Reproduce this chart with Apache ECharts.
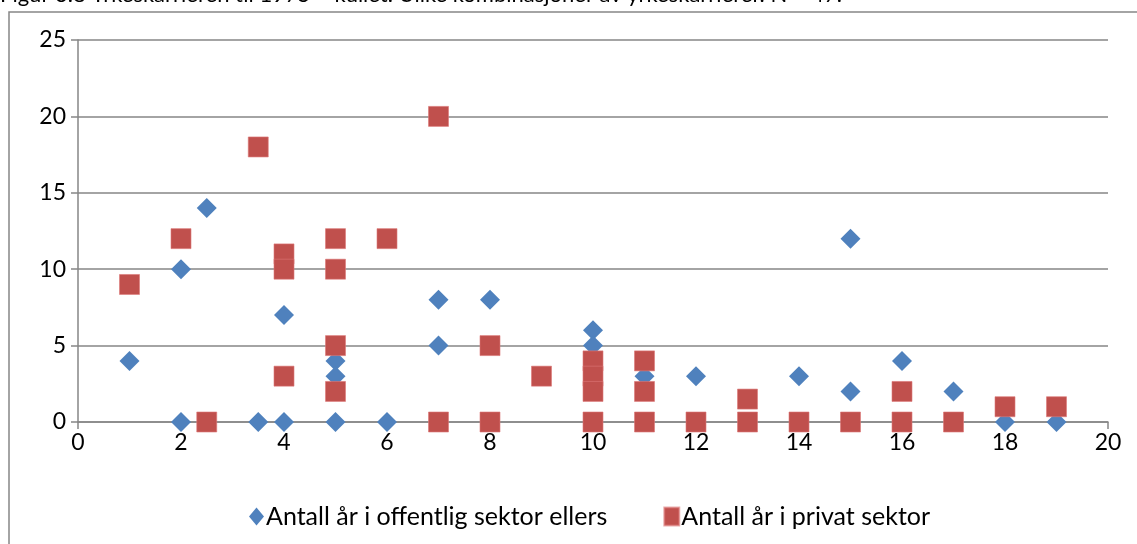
<!DOCTYPE html>
<html>
<head>
<meta charset="utf-8">
<script src="https://cdn.jsdelivr.net/npm/echarts@6/dist/echarts.min.js"></script>
<style>
  html, body { margin: 0; padding: 0; background: #fff; }
  #chart { width: 1137px; height: 544px; }
</style>
</head>
<body>
<div id="chart"></div>
<script>
// Years in occupation (x) against years in the other sector (y)
const titleText = 'Figur 3.8 Yrkeskarrieren til 1975 – kullet. Ulike kombinasjoner av yrkeskarrierer. N = 47.';
const seriesNames = ['Antall år i offentlig sektor ellers', 'Antall år i privat sektor'];

// Antall år i offentlig sektor ellers: [x, y]
const offentlig = [
  [1, 4], [2, 10], [2, 0], [2.5, 14], [3.5, 0], [4, 7], [4, 0],
  [5, 4], [5, 3], [5, 0], [6, 0], [7, 8], [7, 5], [8, 8],
  [10, 6], [10, 5], [11, 3], [12, 3], [14, 3], [15, 12], [15, 2],
  [16, 4], [17, 2], [18, 0], [19, 0]
];

// Antall år i privat sektor: [x, y]
const privat = [
  [1, 9], [2, 12], [2.5, 0], [3.5, 18], [4, 11], [4, 10], [4, 3],
  [5, 12], [5, 10], [5, 5], [5, 2], [6, 12], [7, 20], [7, 0],
  [8, 5], [8, 0], [9, 3], [10, 4], [10, 3], [10, 2], [10, 0],
  [11, 4], [11, 2], [11, 0], [12, 0], [13, 1.5], [13, 0], [14, 0],
  [15, 0], [16, 2], [16, 0], [17, 0], [18, 1], [19, 1]
];

const xTicks = { min: 0, max: 20, interval: 2 };
const yTicks = { min: 0, max: 25, interval: 5 };

const FONT = 'Lato, "Open Sans", sans-serif';
const AXIS_GRAY = '#868686';

const chart = echarts.init(document.getElementById('chart'), null, { renderer: 'canvas' });

chart.setOption({
  animation: false,
  backgroundColor: '#ffffff',
  textStyle: { fontFamily: FONT },
  graphic: [
    {
      type: 'rect',
      shape: { x: 9, y: 12, width: 1200, height: 600 },
      style: { fill: 'none', stroke: AXIS_GRAY, lineWidth: 1.5 },
      silent: true,
      z: -10
    },
    {
      type: 'text',
      left: 0,
      top: -16,
      style: { text: titleText, fontFamily: FONT, fontSize: 22, fill: '#000' },
      silent: true
    }
  ],
  grid: { left: 78, right: 29, top: 40, bottom: 122, containLabel: false },
  legend: {
    top: 499,
    left: 244,
    itemGap: 56,
    itemWidth: 15,
    itemHeight: 18,
    textStyle: { fontFamily: FONT, fontSize: 25, color: '#000', padding: [0, 0, 0, -3] },
    data: [
      { name: seriesNames[0], icon: 'diamond' },
      { name: seriesNames[1], icon: 'rect' }
    ]
  },
  xAxis: {
    type: 'value',
    min: xTicks.min,
    max: xTicks.max,
    interval: xTicks.interval,
    axisLine: { show: true, onZero: true, lineStyle: { color: AXIS_GRAY, width: 1.5 } },
    axisTick: { show: true, inside: false, length: 7, lineStyle: { color: AXIS_GRAY, width: 1.5 } },
    splitLine: { show: false },
    axisLabel: { color: '#000', fontSize: 23, fontFamily: FONT, margin: 9 }
  },
  yAxis: {
    type: 'value',
    min: yTicks.min,
    max: yTicks.max,
    interval: yTicks.interval,
    axisLine: { show: true, lineStyle: { color: AXIS_GRAY, width: 1.5 } },
    axisTick: { show: true, inside: false, length: 7, lineStyle: { color: AXIS_GRAY, width: 1.5 } },
    splitLine: { show: true, lineStyle: { color: AXIS_GRAY, width: 1.5 } },
    axisLabel: { color: '#000', fontSize: 23, fontFamily: FONT, margin: 12 }
  },
  series: [
    {
      name: seriesNames[0],
      type: 'scatter',
      symbol: 'diamond',
      symbolSize: 20,
      itemStyle: { color: '#4F81BD', opacity: 1 },
      data: offentlig,
      z: 2
    },
    {
      name: seriesNames[1],
      type: 'scatter',
      symbol: 'rect',
      symbolSize: 20,
      itemStyle: { color: '#C0504D', borderColor: 'rgba(220,120,120,0.6)', borderWidth: 1, opacity: 1 },
      data: privat,
      z: 3
    }
  ]
});
</script>
</body>
</html>
